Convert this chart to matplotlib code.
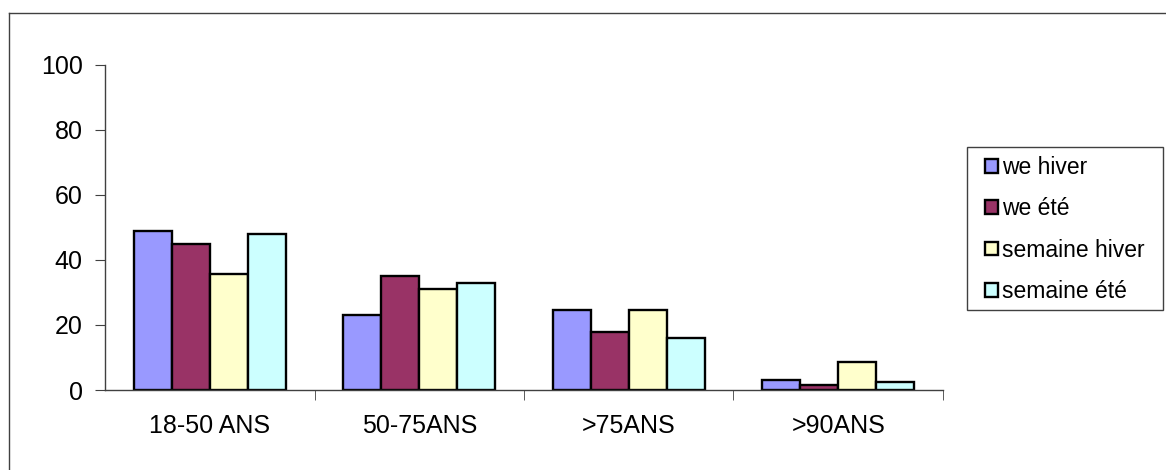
import matplotlib
matplotlib.use("Agg")
import matplotlib.pyplot as plt
from matplotlib.patches import Rectangle
import numpy as np

# Tranches d'âge et pourcentages par série
categories = ["18-50 ANS", "50-75ANS", ">75ANS", ">90ANS"]
series_names = ["we hiver", "we été", "semaine hiver", "semaine été"]
we_hiver = [49, 23, 24.5, 3]
we_ete = [45, 35, 18, 1.5]
semaine_hiver = [35.7, 31, 24.5, 8.5]
semaine_ete = [48, 33, 16, 2.4]
colors = ["#9999FF", "#993366", "#FFFFCC", "#CCFFFF"]

plt.rcParams["font.family"] = ["Liberation Sans", "DejaVu Sans"]
plt.rcParams["font.size"] = 18

W, H = 1166, 470
fig = plt.figure(figsize=(W / 100, H / 100), dpi=100)

# cadre extérieur (seulement haut et gauche visibles)
fig.add_artist(plt.Line2D([9 / W, 9 / W], [0, 1 - 13 / H], color="#404040", lw=1))
fig.add_artist(plt.Line2D([9 / W, 1], [1 - 13 / H, 1 - 13 / H], color="#404040", lw=1))

left, right, top, bottom = 105, 943, 65, 390
ax = fig.add_axes([left / W, 1 - bottom / H, (right - left) / W, (bottom - top) / H])

x = np.arange(len(categories))
width = 0.181
data = [we_hiver, we_ete, semaine_hiver, semaine_ete]
for i, (vals, name, c) in enumerate(zip(data, series_names, colors)):
    ax.bar(x + (i - 1.5) * width, vals, width, color=c, edgecolor="black",
           linewidth=1.7, label=name)

ax.set_xlim(-0.5, len(categories) - 0.5)
ax.set_ylim(0, 100)
ax.set_yticks(range(0, 101, 20))

ax.set_xticks(x)
ax.set_xticklabels(categories)
ax.tick_params(axis="x", length=0, pad=17)
ax.set_xticks(np.arange(0.5, len(categories), 1.0), minor=True)
ax.tick_params(axis="x", which="minor", length=7, direction="out", color="#404040")
ax.tick_params(axis="y", length=7, direction="out", color="#404040", pad=9)

for s in ["top", "right"]:
    ax.spines[s].set_visible(False)
for s in ["left", "bottom"]:
    ax.spines[s].set_color("#404040")
    ax.spines[s].set_linewidth(1)

# cadre de la légende dessiné à part (marges horizontales plus larges)
fig.add_artist(Rectangle((967 / W, 1 - 310 / H), (1163 - 967) / W, (310 - 147) / H,
                         transform=fig.transFigure, fill=False,
                         edgecolor="#404040", lw=1))
leg = fig.legend(loc="upper left", bbox_to_anchor=(985 / W, 1 - 156 / H),
                 borderaxespad=0, borderpad=0, frameon=False,
                 handlelength=0.55, handleheight=0.55, handletextpad=0.2,
                 labelspacing=0.8, fontsize=16.5)

fig.savefig("out.png", dpi=100)
